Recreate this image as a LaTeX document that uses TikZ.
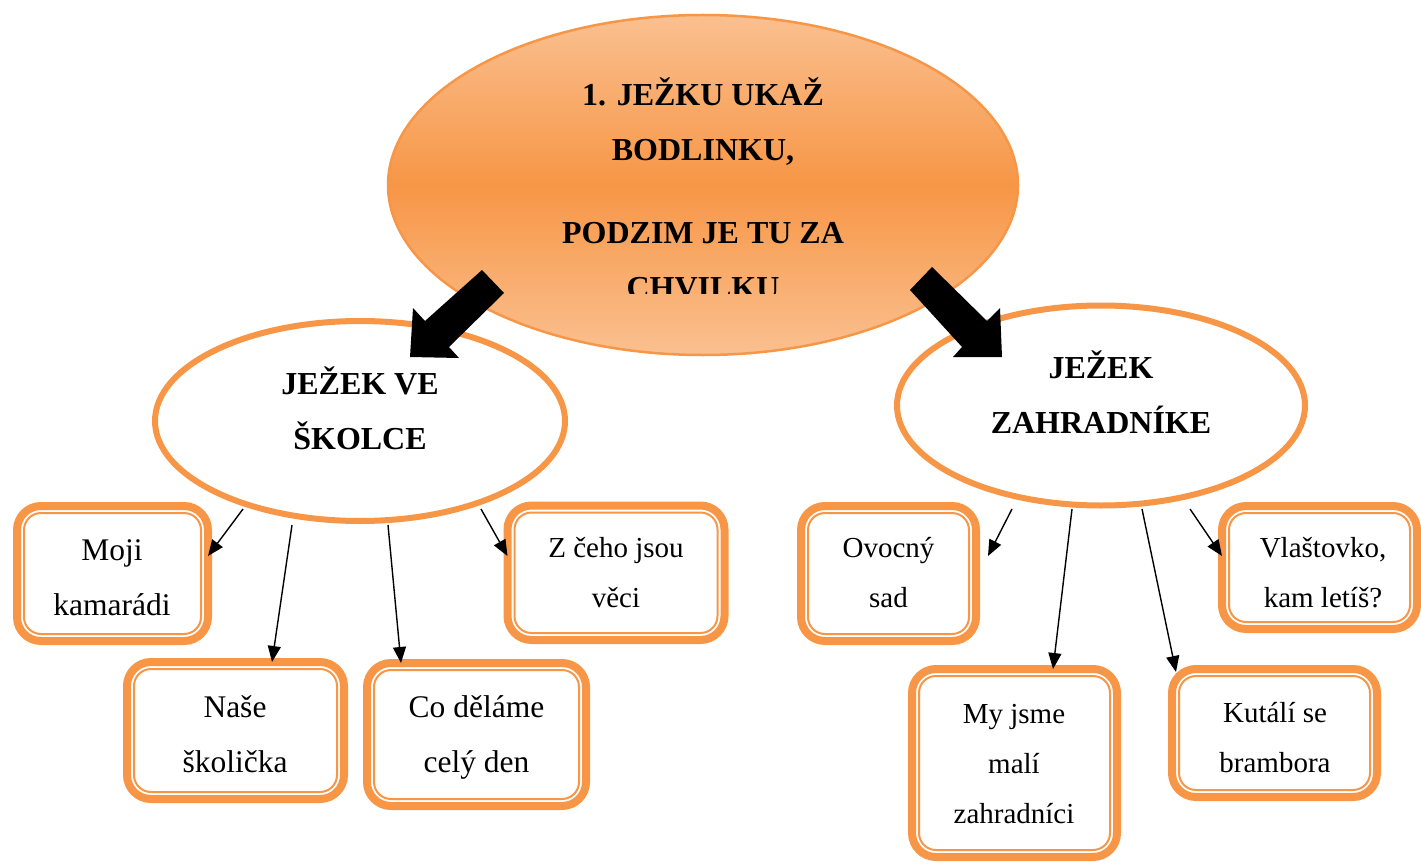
\documentclass[tikz,border=0pt]{standalone}
\usepackage{fontspec}
\setmainfont{Liberation Serif}
\usetikzlibrary{shapes.geometric,arrows.meta,calc}
\definecolor{orng}{HTML}{F79646}
\definecolor{lorng}{HTML}{FAC090}
\newcommand{\sbig}{\rule[-26pt]{0pt}{52pt}}
\newcommand{\ssml}{\rule[-23pt]{0pt}{46pt}}
\newcommand{\obox}[5]{%
  \node[obox, minimum width=#4pt, minimum height=#5pt] (#1) at (#2,#3) {};
  \draw[ibox] ($(#1.north west)+(7,7)$) rectangle ($(#1.south east)+(-7,-7)$);
}
\begin{document}
\begin{tikzpicture}[x=1pt,y=-1pt,
  ell/.style={ellipse, draw=orng, line width=6pt, fill=white, inner sep=0pt, outer sep=0pt},
  obox/.style={draw=orng, line width=8pt, rounded corners=24pt, fill=white, inner sep=0pt, outer sep=0pt},
  ibox/.style={draw=orng, line width=2pt, rounded corners=17pt},
  bt/.style={font=\fontsize{32}{55}\selectfont\bfseries, align=center, inner sep=0pt},
  tl/.style={font=\fontsize{31.5}{55}\selectfont, align=center, inner sep=0pt},
  tr/.style={font=\fontsize{29}{50}\selectfont, align=center, inner sep=0pt},
  conn/.style={line width=1.4pt, -{Triangle[length=16pt,width=13pt]}},
  big/.style={fill=black}
]
\useasboundingbox (0,0) rectangle (1421,864);

% child ellipses
\node[ell, minimum width=410pt, minimum height=200pt, bt] (le) at (360,421) {\sbig JEŽEK VE\\\sbig ŠKOLCE};
\node[ell, minimum width=408pt, minimum height=200pt, bt] (re) at (1101,405.5) {\sbig JEŽEK\\\sbig ZAHRADNÍKE};

% top ellipse
\node[ellipse, draw=orng, line width=2.5pt, top color=lorng, bottom color=lorng, middle color=orng,
      minimum width=630pt, minimum height=340pt, inner sep=0pt] (top) at (703,185) {};
\node[bt] (t1) at (703,132.5) {\sbig 1. JEŽKU UKAŽ\\\sbig BODLINKU,};
\begin{scope}
  \clip (388,200) rectangle (1018,293);
  \node[bt] (t2) at (703,271) {\sbig PODZIM JE TU ZA\\\sbig CHVILKU};
\end{scope}

% boxes
\obox{moji}{112.5}{573.5}{191}{135}
\obox{nase}{235.5}{730.5}{217}{137}
\obox{co}{476.5}{734.5}{219}{143}
\obox{zch}{616}{572.75}{217}{134.5}
\obox{ovo}{888.5}{573.5}{175}{135}
\obox{vla}{1319.5}{567.5}{195}{123}
\obox{my}{1014.5}{763}{205}{188}
\obox{kut}{1274.5}{733}{205}{128}

% box texts
\node[tl] (moji-t) at (112,587.5) {\sbig Moji\\\sbig kamarádi};
\node[tl] (nase-t) at (235,744.5) {\sbig Naše\\\sbig školička};
\node[tl] (co-t) at (476.5,744.5) {\sbig Co děláme\\\sbig celý den};
\node[tr] (zch-t) at (616,582) {\ssml Z čeho jsou\\\ssml věci};
\node[tr] (ovo-t) at (888.5,582) {\ssml Ovocný\\\ssml sad};
\node[tr] (vla-t) at (1323,582) {\ssml Vlaštovko,\\\ssml kam letíš?};
\node[tr] (my-t) at (1014,773) {\ssml My jsme\\\ssml malí\\\ssml zahradníci};
\node[tr] (kut-t) at (1275,747) {\ssml Kutálí se\\\ssml brambora};

% thin connectors
\draw[conn] ($(le.center)+(-117,88)$) -- ($(moji.east)+(0,-17.5)$);
\draw[conn] ($(le.center)+(-68,104)$) -- ($(nase.north)+(36.5,0)$);
\draw[conn] ($(le.center)+(28,104)$) -- ($(co.north)+(-75.5,0)$);
\draw[conn] ($(le.center)+(121,88)$) -- ($(zch.west)+(0,-16.75)$);
\draw[conn] ($(re.center)+(-89,103.5)$) -- ($(ovo.east)+(12,-17.5)$);
\draw[conn] ($(re.center)+(-29,103.5)$) -- ($(my.north)+(38.5,0)$);
\draw[conn] ($(re.center)+(41,103.5)$) -- ($(kut.north)+(-98.5,3)$);
\draw[conn] ($(re.center)+(89,103.5)$) -- ($(vla.west)+(0,-11.5)$);

% big block arrows
\fill[big] (482,270) -- (504,293) -- (449,347) -- (459,358) -- (410,357) -- (413,308) -- (425,321) -- cycle;
\fill[big] (932,267) -- (987,321) -- (1000,308) -- (1002,357) -- (953,357) -- (962,347) -- (910,290) -- cycle;
\end{tikzpicture}
\end{document}
